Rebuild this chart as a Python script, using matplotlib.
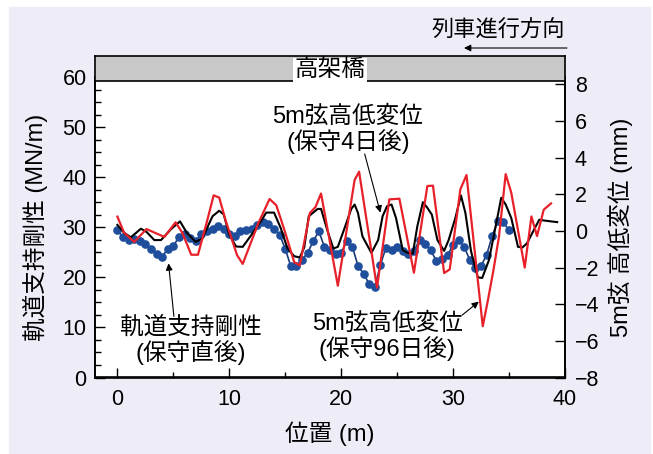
import numpy as np
import matplotlib
matplotlib.use('Agg')
import matplotlib.pyplot as plt
from matplotlib.patches import Rectangle
from matplotlib.ticker import MultipleLocator

plt.rcParams['font.family'] = ['Liberation Sans', 'Noto Sans CJK JP']

# track support stiffness right after maintenance (MN/m), every 0.5 m
stiff_x = np.arange(0, 35.01, 0.5)
stiff = [29.4, 28.0, 27.5, 27.7, 27.2, 26.7, 25.7, 24.7, 24.1, 25.7,
         26.2, 28.1, 28.7, 27.8, 27.2, 28.6, 29.2, 29.7, 30.3, 29.7,
         28.7, 28.2, 29.2, 29.4, 29.7, 30.4, 31.0, 30.7, 29.7, 28.5,
         25.7, 22.2, 22.3, 23.5, 24.9, 27.2, 29.2, 26.1, 25.4, 24.7,
         24.9, 27.2, 26.1, 22.3, 20.7, 18.7, 18.0, 22.5, 25.9, 25.5,
         26.1, 25.2, 24.7, 25.2, 27.5, 26.7, 25.4, 23.3, 23.7, 24.4,
         26.5, 27.5, 26.1, 23.4, 21.8, 22.3, 24.5, 28.3, 31.3, 31.0,
         29.4]

# 5m chord versine, 4 days after maintenance (mm)
d4_x = [0.0, 0.6, 1.2, 2.1, 2.6, 3.3, 3.9, 4.8, 5.6, 6.2, 7.0, 7.6, 8.5, 9.1,
        9.5, 10.0, 10.6, 11.2, 12.0, 12.9, 13.3, 14.0, 14.6, 15.2, 15.8, 16.3,
        16.7, 17.1, 17.9, 18.2, 18.8, 19.3, 19.7, 20.3, 20.9, 21.2, 21.5, 21.9,
        22.7, 23.3, 23.7, 24.1, 24.5, 24.9, 25.5, 25.95, 26.4, 26.8, 27.3, 27.7,
        28.1, 28.6, 29.2, 29.6, 30.2, 30.7, 31.1, 31.6, 32.2, 32.6, 33.2, 33.8,
        34.3, 34.7, 35.2, 35.8, 36.2, 36.6, 37.3, 37.7, 38.1, 38.75, 39.3]
d4 = [0.33, -0.1, -0.35, 0.12, -0.05, -0.5, -0.5, 0.1, 0.52, -0.1, -0.6, -0.4,
      0.8, 1.1, 0.9, -0.2, -0.85, -0.87, -0.2, 0.6, 1.0, 1.0, 0.15, -0.96,
      -1.38, -1.45, -0.9, 0.8, 1.2, 1.2, -0.04, -0.96, -0.87, 0.15, 1.2, 1.44,
      0.98, -0.3, -1.2, -0.5, 0.8, 1.35, 1.44, 0.7, -1.05, -1.2, -1.24, 0.24,
      1.57, 1.26, 0.89, -0.5, -1.09, -0.5, 0.7, 1.94, 0.98, -1.1, -2.53, -2.57,
      -1.6, 0.24, 1.81, 1.44, 0.7, -0.87, -0.9, -0.68, 0.15, 0.61, 0.57, 0.52,
      0.48]

# 5m chord versine, 96 days after maintenance (mm)
d96_x = [0.0, 0.6, 1.5, 2.6, 3.8, 4.2, 5.2, 5.8, 6.6, 7.2, 8.0, 8.6, 9.1, 9.7,
         10.7, 11.2, 12.6, 13.6, 14.2, 14.9, 15.8, 16.3, 17.2, 17.7, 18.2,
         19.7, 21.2, 21.6, 23.2, 24.3, 25.2, 26.5, 27.7, 28.2, 29.2, 29.7,
         30.65, 31.2, 32.65, 33.1, 33.6, 34.1, 34.7, 35.2, 36.4, 37.0, 37.5,
         38.1, 38.75]
d96 = [0.78, -0.1, -0.6, 0.1, -0.22, -0.33, 0.47, -0.1, -1.3, -1.3, 0.5, 1.94,
       1.82, 0.52, -1.33, -1.8, 0.43, 1.74, 1.4, 0.1, -1.7, -1.88, 0.98, 1.3,
       2.04, -2.99, 2.78, 3.23, -3.1, 1.72, 1.76, -2.28, 2.45, 2.47, -2.3, -2.1,
       2.27, 3.05, -5.2, -3.82, -2.16, -0.31, 3.1, 2.08, -2.0, 0.79, -0.28,
       1.16, 1.5]

W, H = 653, 454
fig = plt.figure(figsize=(W / 100, H / 100), dpi=100, facecolor='white')
fig.patches.append(Rectangle((9 / W, 0), (650 - 9) / W, 1 - 7 / H,
                             transform=fig.transFigure, color='#EEEDF7',
                             zorder=-10))

ax = fig.add_axes([95 / W, 1 - 377.5 / H, 470 / W, 300.5 / H])
ax2 = ax.twinx()

ax.plot(stiff_x, stiff, color='#1a3a78', lw=1.2, marker='o', ms=5.2,
        mfc='#1f4e9c', mec='#1f4e9c', zorder=3)
ax2.plot(d4_x, d4, color='black', lw=1.5, zorder=3)
ax2.plot(d96_x, d96, color='#e8202a', lw=1.6, zorder=4)

ax.set_xlim(-2, 40)
ax.set_ylim(0, 60)
ax2.set_ylim(-8, 8.4)

ax.xaxis.set_major_locator(MultipleLocator(10))
ax.xaxis.set_minor_locator(MultipleLocator(5))
ax.yaxis.set_major_locator(MultipleLocator(10))
ax.yaxis.set_minor_locator(MultipleLocator(2.5))
ax2.set_yticks(np.arange(-8, 9, 2))

ax.tick_params(axis='both', which='major', direction='in', length=7, width=1,
               labelsize=15.5, top=False, right=False)
ax.tick_params(axis='both', which='minor', direction='in', length=4, width=1,
               top=False, right=False)
ax.tick_params(axis='x', pad=8)
ax.tick_params(axis='y', pad=6)
ax2.tick_params(axis='y', direction='in', length=7, width=1, labelsize=15.5,
                pad=7)

for a in (ax, ax2):
    for s in a.spines.values():
        s.set_linewidth(1.2)

ax.set_xlabel('位置 (m)', fontsize=17)
ax.xaxis.set_label_coords(0.5, -0.145)
ax.set_ylabel('軌道支持剛性 (MN/m)', fontsize=17)
ax.yaxis.set_label_coords(-0.1, 0.5)
ax2.set_ylabel('5m弦 高低変位 (mm)', fontsize=17, rotation=90)
ax2.yaxis.set_label_coords(1.09, 0.5)

# labels and arrows
ax.text(20.6, 49.5, '5m弦高低変位\n(保守4日後)', ha='center', va='center',
        fontsize=17, linespacing=1.05)
ax2.annotate('', xy=(23.5, 1.0), xytext=(22.1, 4.2),
             arrowprops=dict(arrowstyle='-|>', color='black', lw=0.8,
                             mutation_scale=10, shrinkA=0, shrinkB=0))
ax.text(6.6, 7.3, '軌道支持剛性\n(保守直後)', ha='center', va='center',
        fontsize=17, linespacing=1.05)
ax.annotate('', xy=(4.57, 22.8), xytext=(5.05, 12.2),
            arrowprops=dict(arrowstyle='-|>', color='black', lw=0.8,
                            mutation_scale=10, shrinkA=0, shrinkB=0))
ax.text(24.1, 8.2, '5m弦高低変位\n(保守96日後)', ha='center', va='center',
        fontsize=17, linespacing=1.05)
ax2.annotate('', xy=(32.3, -3.86), xytext=(30.8, -4.6),
             arrowprops=dict(arrowstyle='-|>', color='black', lw=0.8,
                             mutation_scale=10, shrinkA=0, shrinkB=0))

# viaduct band on top
band = fig.add_axes([95 / W, 1 - 80.5 / H, 470 / W, 24.5 / H])
band.set_facecolor('#c8c8c8')
band.set_xticks([])
band.set_yticks([])
for s in band.spines.values():
    s.set_linewidth(1.2)
band.text(0.5, 0.42, '高架橋', ha='center', va='center', fontsize=17,
          transform=band.transAxes,
          bbox=dict(facecolor='white', edgecolor='none', pad=1.0))

# train direction
fig.text(498 / W, 1 - 31 / H, '列車進行方向', ha='center', va='center',
         fontsize=16)
ax.annotate('', xy=(464 / W, 1 - 48 / H), xytext=(567 / W, 1 - 48 / H),
            xycoords='figure fraction', textcoords='figure fraction',
            arrowprops=dict(arrowstyle='-|>', color='black', lw=0.8,
                            mutation_scale=10, shrinkA=0, shrinkB=0),
            annotation_clip=False)

fig.savefig('out.png', dpi=100, facecolor=fig.get_facecolor())
